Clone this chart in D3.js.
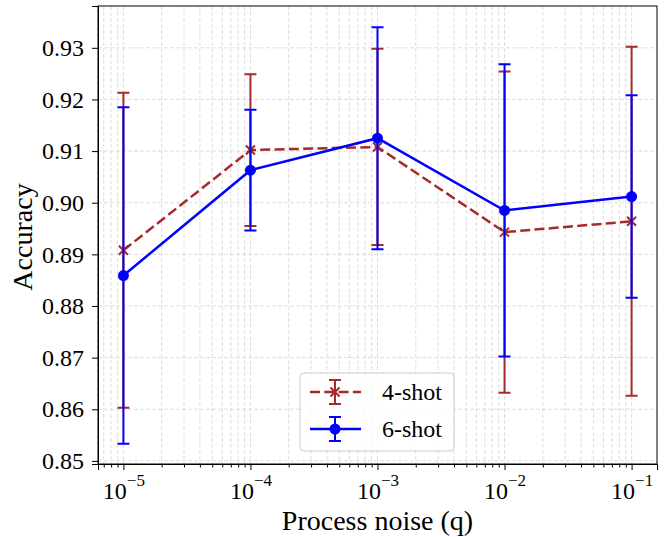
<!DOCTYPE html>
<html>
<head>
<meta charset="utf-8">
<script src="https://cdn.jsdelivr.net/npm/d3@7"></script>
<style>
  body { margin: 0; background: #fff; }
</style>
</head>
<body>
<div id="chart"></div>
<script>
// values
var noise = [1e-5, 1e-4, 1e-3, 1e-2, 1e-1];
var acc4 = [0.8908, 0.9102, 0.9108, 0.8943, 0.8964];
var err4 = [0.0305, 0.0147, 0.0190, 0.0311, 0.0338];
var acc6 = [0.8859, 0.9063, 0.9125, 0.8985, 0.9012];
var err6 = [0.0326, 0.0117, 0.0215, 0.0283, 0.0196];
var yTicks = [0.85, 0.86, 0.87, 0.88, 0.89, 0.90, 0.91, 0.92, 0.93];
var xTicks = [1e-5, 1e-4, 1e-3, 1e-2, 1e-1];

var serif = "'Liberation Serif', 'Times New Roman', serif";

var series = [
  { name: "4-shot", mean: acc4, err: err4, color: "#a52a2a", dash: "10,4.3", marker: "x" },
  { name: "6-shot", mean: acc6, err: err6, color: "#0000ff", dash: null, marker: "o" }
];

var width = 672, height = 537;
var margin = {top: 6, right: 15, bottom: 73, left: 98};
var innerWidth = width - margin.left - margin.right,
    innerHeight = height - margin.top - margin.bottom;

var svg = d3.select("#chart").append("svg")
    .attr("width", width)
    .attr("height", height)
    .attr("font-family", serif);

var g = svg.append("g")
    .attr("transform", "translate(" + margin.left + "," + margin.top + ")");

var xScale = d3.scaleLog()
    .domain([Math.pow(10, -5.2), Math.pow(10, -0.8)])
    .range([0, innerWidth]);
var yScale = d3.scaleLinear()
    .domain([0.8494, 0.9381])
    .range([innerHeight, 0]);

// minor positions for the log axis
var minor = [];
for (var e = -6; e <= 0; e++) {
  for (var m = 2; m <= 9; m++) {
    var v = m * Math.pow(10, e);
    if (v > xScale.domain()[0] && v < xScale.domain()[1]) minor.push(v);
  }
}

// grid (dashed, light)
var grid = g.append("g").attr("class", "grid");
function vgrid(vals) {
  grid.selectAll(null).data(vals).enter().append("line")
      .attr("x1", function(d) { return xScale(d); })
      .attr("x2", function(d) { return xScale(d); })
      .attr("y1", 0).attr("y2", innerHeight)
      .attr("stroke", "#d6d6d6").attr("stroke-width", 0.8)
      .attr("stroke-dasharray", "4,2");
}
vgrid(minor);
vgrid(xTicks);
grid.selectAll(null).data(yTicks).enter().append("line")
    .attr("x1", 0).attr("x2", innerWidth)
    .attr("y1", function(d) { return yScale(d); })
    .attr("y2", function(d) { return yScale(d); })
    .attr("stroke", "#d6d6d6").attr("stroke-width", 0.8)
    .attr("stroke-dasharray", "4,2");

// x axis: major ticks with 10^n labels, then minor ticks
var xAxis = g.append("g")
    .attr("transform", "translate(0," + innerHeight + ")")
    .call(d3.axisBottom(xScale).tickValues(xTicks).tickSize(6).tickFormat(""));
xAxis.selectAll(".tick text").remove();
xAxis.selectAll(".tick").append("text")
    .attr("y", 35)
    .attr("text-anchor", "middle")
    .attr("fill", "#000")
    .attr("font-family", serif)
    .attr("font-size", "24px")
    .each(function(d) {
      var t = d3.select(this);
      t.append("tspan").text("10");
      t.append("tspan").attr("dy", -13).attr("font-size", "17px")
        .text("\u2212" + Math.round(-Math.log10(d)));
    });
var xMinor = g.append("g")
    .attr("transform", "translate(0," + innerHeight + ")")
    .call(d3.axisBottom(xScale).tickValues(minor).tickSize(3.5).tickFormat(""));
xMinor.select(".domain").remove();
xMinor.selectAll(".tick text").remove();

var yAxis = g.append("g")
    .call(d3.axisLeft(yScale).tickValues(yTicks).tickSize(6).tickPadding(8).tickFormat(d3.format(".2f")));
yAxis.selectAll(".tick text")
    .attr("font-size", "24px")
    .attr("fill", "#000")
    .attr("font-family", serif);

// frame
g.append("rect")
    .attr("width", innerWidth).attr("height", innerHeight)
    .attr("fill", "none").attr("stroke", "#000").attr("stroke-width", 1);

// axis labels
svg.append("text")
    .attr("x", margin.left + innerWidth / 2)
    .attr("y", 530)
    .attr("text-anchor", "middle")
    .attr("font-family", serif)
    .attr("font-size", "28px")
    .text("Process noise (q)");
svg.append("text")
    .attr("transform", "translate(32,237) rotate(-90)")
    .attr("text-anchor", "middle")
    .attr("font-family", serif)
    .attr("font-size", "28px")
    .text("Accuracy");

function drawMarker(sel, s, x, y) {
  if (s.marker === "o") {
    sel.append("circle").attr("cx", x).attr("cy", y).attr("r", 5.5).attr("fill", s.color);
  } else {
    var r = 4.5;
    sel.append("path")
      .attr("d", "M" + (x - r) + "," + (y - r) + "L" + (x + r) + "," + (y + r) +
                 "M" + (x - r) + "," + (y + r) + "L" + (x + r) + "," + (y - r))
      .attr("stroke", s.color).attr("stroke-width", 2).attr("fill", "none");
  }
}

var line = d3.line()
    .x(function(d) { return xScale(d.x); })
    .y(function(d) { return yScale(d.y); });

series.forEach(function(s) {
  var pts = noise.map(function(x, i) { return {x: x, y: s.mean[i], e: s.err[i]}; });
  var sg = g.append("g");
  sg.append("path").datum(pts)
      .attr("d", line)
      .attr("fill", "none")
      .attr("stroke", s.color)
      .attr("stroke-width", 2.5)
      .attr("stroke-dasharray", s.dash);
  sg.selectAll(".bar").data(pts).enter().append("path")
      .attr("d", function(d) {
        var x = xScale(d.x), y0 = yScale(d.y - d.e), y1 = yScale(d.y + d.e), c = 6;
        return "M" + x + "," + y0 + "V" + y1 +
               "M" + (x - c) + "," + y0 + "H" + (x + c) +
               "M" + (x - c) + "," + y1 + "H" + (x + c);
      })
      .attr("fill", "none")
      .attr("stroke", s.color)
      .attr("stroke-width", 2);
  pts.forEach(function(d) { drawMarker(sg, s, xScale(d.x), yScale(d.y)); });
});

// legend
var lg = svg.append("g").attr("transform", "translate(300,373)");
lg.append("rect")
    .attr("width", 154).attr("height", 78)
    .attr("rx", 4).attr("ry", 4)
    .attr("fill", "#fff").attr("fill-opacity", 0.8)
    .attr("stroke", "#cccccc").attr("stroke-width", 1);
series.forEach(function(s, i) {
  var cy = 19 + i * 37, x0 = 10, x1 = 61, xm = 35;
  var e = lg.append("g");
  e.append("line").attr("x1", x0).attr("x2", x1).attr("y1", cy).attr("y2", cy)
      .attr("stroke", s.color).attr("stroke-width", 2.5).attr("stroke-dasharray", s.dash);
  e.append("path")
      .attr("d", "M" + xm + "," + (cy - 12) + "V" + (cy + 12) +
                 "M" + (xm - 6) + "," + (cy - 12) + "H" + (xm + 6) +
                 "M" + (xm - 6) + "," + (cy + 12) + "H" + (xm + 6))
      .attr("stroke", s.color).attr("stroke-width", 2).attr("fill", "none");
  drawMarker(e, s, xm, cy);
  lg.append("text").attr("x", 82).attr("y", cy + 8)
      .attr("font-family", serif)
      .attr("font-size", "24px").text(s.name);
});
</script>
</body>
</html>
